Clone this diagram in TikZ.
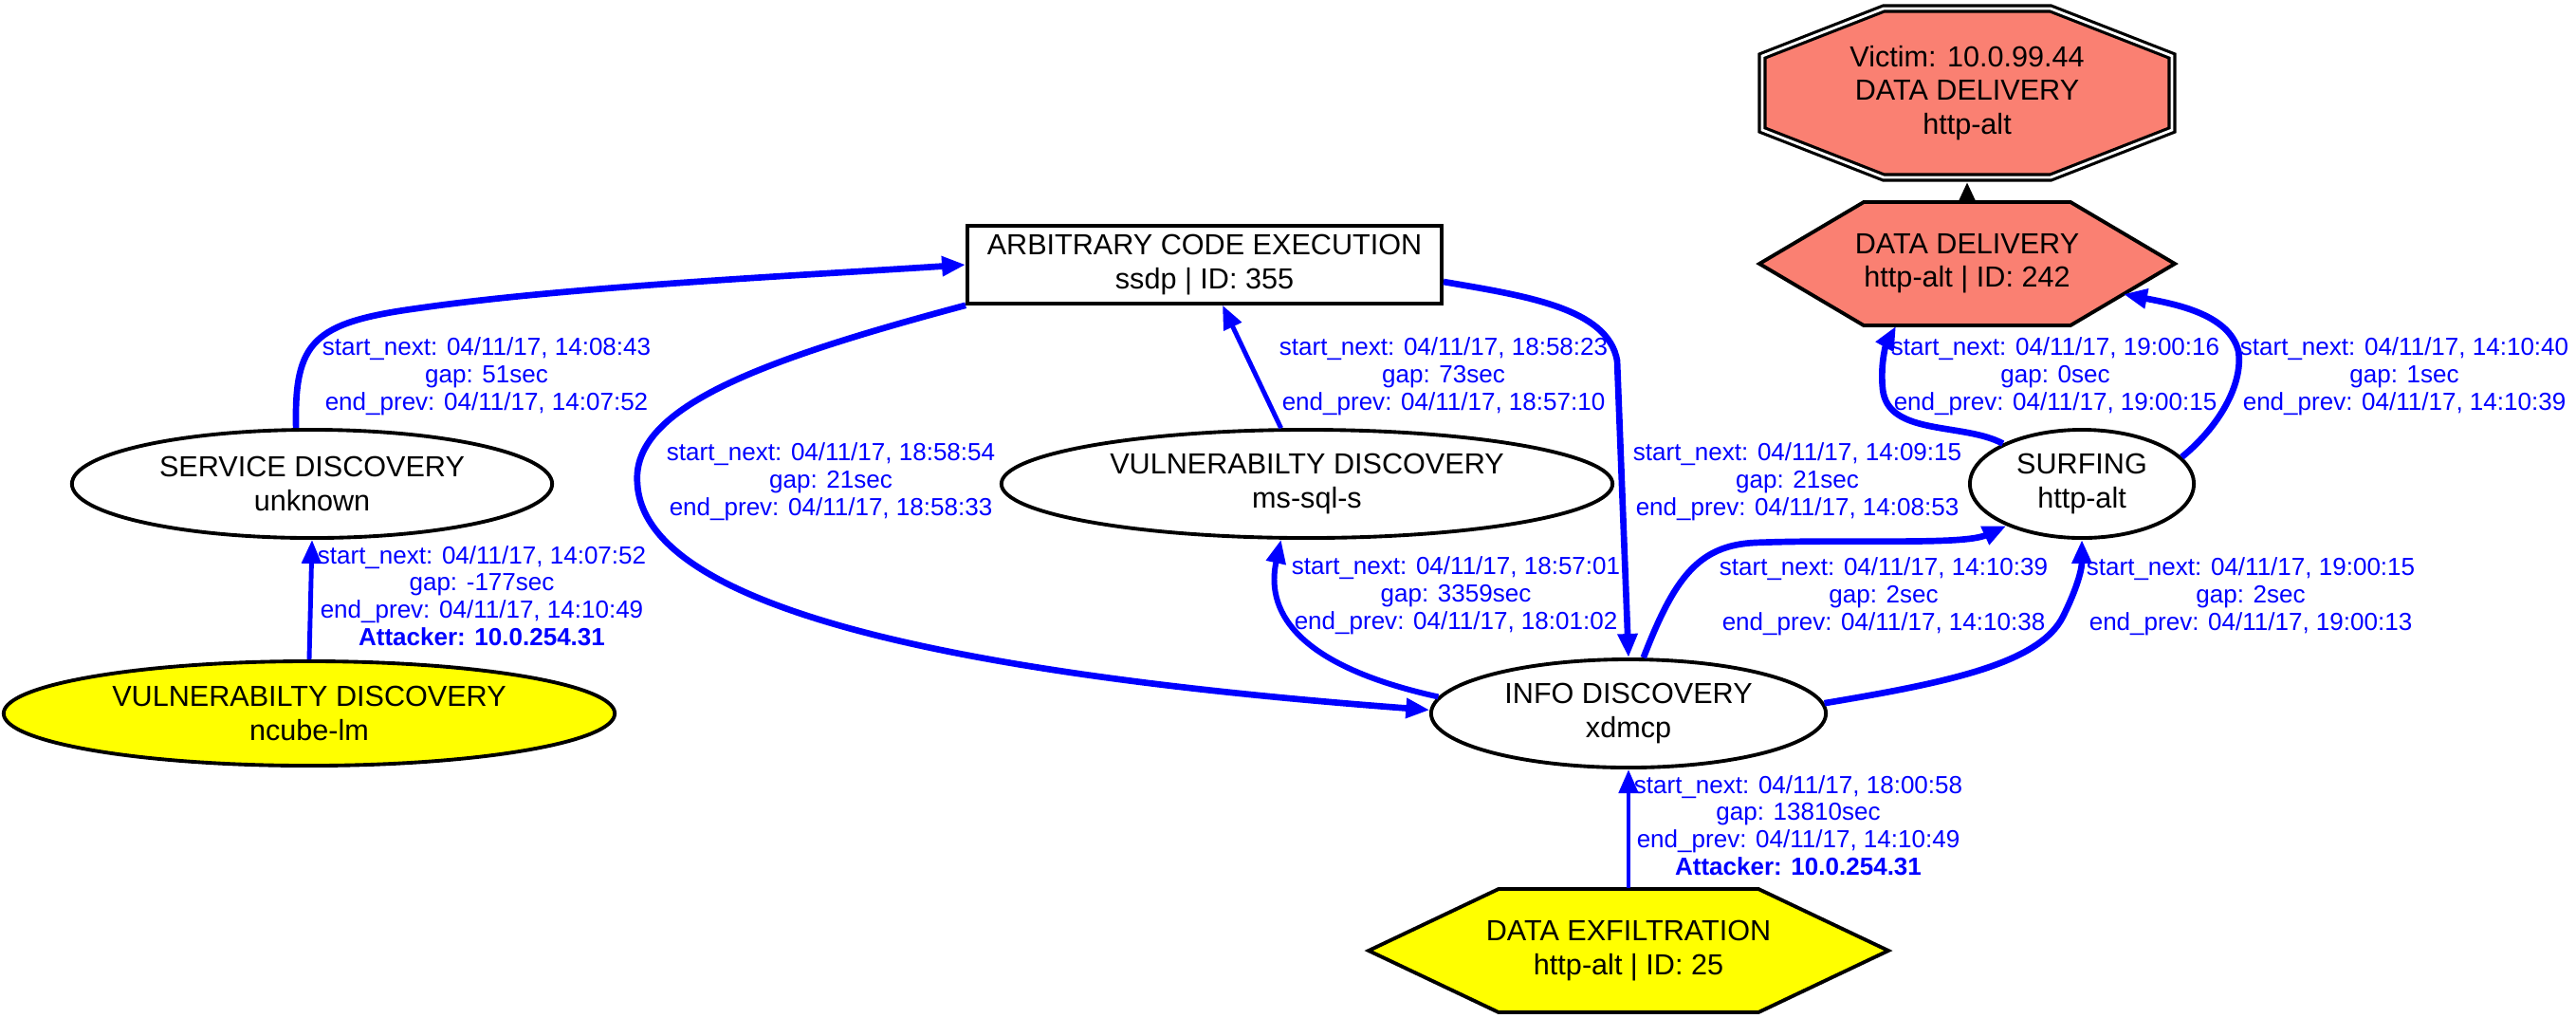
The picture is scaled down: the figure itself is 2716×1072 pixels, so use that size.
\documentclass[tikz,border=0pt]{standalone}
\usepackage{fontspec}
\setmainfont{Liberation Sans}
\usepackage{tikz}
\usetikzlibrary{arrows.meta,positioning,calc,shapes.geometric,backgrounds}
\definecolor{flowblue}{RGB}{0,0,255}
\definecolor{victimred}{HTML}{FA8072}
\definecolor{attacker}{HTML}{FFFF00}
\newcommand{\evfont}{\fontsize{8.7}{10}\selectfont}
\newcommand{\lbfont}{\fontsize{7.4}{8.2}\selectfont}
\tikzset{
  evt/.style={ellipse,draw=black,fill=#1,line width=1.1pt,inner sep=0pt,align=center,
    font=\evfont},
  evt/.default=white,
  boxn/.style={rectangle,draw=black,fill=white,line width=1pt,inner sep=0pt,align=center,
    font=\evfont},
  poly/.style={rectangle,inner sep=0pt,align=center,font=\evfont},
  polyline/.style={draw=black,fill=#1,line width=1.1pt,line join=miter},
  arr/.style={-{Triangle[length=0.25cm,width=0.2cm]},line width=#1,draw=flowblue},
  arr/.default=1.9pt,
  arrk/.style={-{Triangle[length=0.22cm,width=0.19cm]},line width=1.2pt,draw=black},
  lbl/.style={align=center,inner sep=0pt,text=flowblue,font=\lbfont},
}

\begin{document}
\begin{tikzpicture}[x=0.01cm,y=-0.01cm]
  \useasboundingbox (0,0) rectangle (2716,1072);

  \node[poly,minimum width=4.42cm,minimum height=1.87cm] (vic) at (2074,98)
    {Victim: 10.0.99.44\\DATA DELIVERY\\http-alt};
  \node[poly,minimum width=4.38cm,minimum height=1.30cm] (dd) at (2074,278)
    {DATA DELIVERY\\http-alt | ID: 242};
  \node[poly,minimum width=5.49cm,minimum height=1.30cm] (exfil) at (1717,1002)
    {DATA EXFILTRATION\\http-alt | ID: 25};
  \node[boxn,minimum width=5.0cm,minimum height=0.82cm] (ace) at (1270,279)
    {ARBITRARY CODE EXECUTION\\ssdp | ID: 355};
  \node[evt,minimum width=5.06cm,minimum height=1.14cm] (srv) at (329,510)
    {SERVICE DISCOVERY\\unknown};
  \node[evt,minimum width=6.44cm,minimum height=1.14cm] (vul2) at (1378,510)
    {VULNERABILTY DISCOVERY\\ms-sql-s};
  \node[evt,minimum width=2.36cm,minimum height=1.14cm] (surf) at (2195,510)
    {SURFING\\http-alt};
  \node[evt=attacker,minimum width=6.44cm,minimum height=1.10cm] (vul1) at (326,752)
    {VULNERABILTY DISCOVERY\\ncube-lm};
  \node[evt,minimum width=4.16cm,minimum height=1.14cm] (info) at (1717,752)
    {INFO DISCOVERY\\xdmcp};

  \begin{scope}[on background layer]
    \draw[polyline=victimred,double=white,double distance=0.8pt,line width=0.9pt,
      shift={(vic.center)}]
      (-88,-89) -- (88,-89) -- (216,-39) -- (216,39) -- (88,89) -- (-88,89)
      -- (-216,39) -- (-216,-39) -- cycle;
    \draw[polyline=victimred,shift={(dd.center)}]
      (-219,0) -- (-109,-65) -- (109,-65) -- (219,0) -- (109,65) -- (-109,65) -- cycle;
    \draw[polyline=attacker,shift={(exfil.center)}]
      (-274,0) -- (-137,-65) -- (137,-65) -- (274,0) -- (137,65) -- (-137,65) -- cycle;
  \end{scope}

  \draw[arr=1.4pt] (vul1.north) -- (srv.south);
  \draw[arr] (srv.106) .. controls (310,360) and (330,340) .. (440,325)
    .. controls (600,302) and (850,290) .. (ace.west);
  \draw[arr] (ace.south west) .. controls (800,380) and (665,430) .. (672,510)
    .. controls (680,640) and (1000,710) .. (info.179);
  \draw[arr=1.4pt] (vul2.115) -- ($(ace.south)+(19,0)$);
  \draw[arr=1.7pt] (info.175) .. controls (1360,700) and (1335,640) .. (vul2.245);
  \draw[arr] ($(ace.east)+(0,18)$) .. controls (1610,312) and (1695,325) .. (1705,380)
    -- (info.north);
  \draw[arr] (info.75) .. controls (1765,610) and (1790,575) .. (1850,572)
    .. controls (1950,568) and (2070,575) .. (surf.209);
  \draw[arr] (info.3) .. controls (2050,720) and (2150,700) .. (2175,650)
    .. controls (2190,620) and (2195,600) .. (surf.south);
  \draw[arr] (surf.153) .. controls (2070,445) and (1990,460) .. (1985,410)
    .. controls (1982,380) and (1990,360) .. ($(dd.south)+(-75,0)$);
  \draw[arr] (surf.15) .. controls (2345,445) and (2365,400) .. (2360,370)
    .. controls (2350,330) and (2290,320) .. ($(dd.east)+(-55,32)$);
  \draw[arr=1.4pt] (exfil.north) -- (info.south);
  \draw[arrk] (dd.north) -- (vic.south);

  \node[lbl] (l1) at (508,628) {start\_next: 04/11/17, 14:07:52\\gap: -177sec\\
    end\_prev: 04/11/17, 14:10:49\\\textbf{Attacker: 10.0.254.31}};
  \node[lbl] (l2) at (513,397) {start\_next: 04/11/17, 14:08:43\\gap: 51sec\\
    end\_prev: 04/11/17, 14:07:52};
  \node[lbl] (l3) at (876,508) {start\_next: 04/11/17, 18:58:54\\gap: 21sec\\
    end\_prev: 04/11/17, 18:58:33};
  \node[lbl] (l4) at (1522,397) {start\_next: 04/11/17, 18:58:23\\gap: 73sec\\
    end\_prev: 04/11/17, 18:57:10};
  \node[lbl] (l5) at (1535,628) {start\_next: 04/11/17, 18:57:01\\gap: 3359sec\\
    end\_prev: 04/11/17, 18:01:02};
  \node[lbl] (l6) at (1895,508) {start\_next: 04/11/17, 14:09:15\\gap: 21sec\\
    end\_prev: 04/11/17, 14:08:53};
  \node[lbl] (l7) at (1986,629) {start\_next: 04/11/17, 14:10:39\\gap: 2sec\\
    end\_prev: 04/11/17, 14:10:38};
  \node[lbl] (l8) at (2373,629) {start\_next: 04/11/17, 19:00:15\\gap: 2sec\\
    end\_prev: 04/11/17, 19:00:13};
  \node[lbl] (l9) at (2167,397) {start\_next: 04/11/17, 19:00:16\\gap: 0sec\\
    end\_prev: 04/11/17, 19:00:15};
  \node[lbl] (l10) at (2535,397) {start\_next: 04/11/17, 14:10:40\\gap: 1sec\\
    end\_prev: 04/11/17, 14:10:39};
  \node[lbl] (l11) at (1896,870) {start\_next: 04/11/17, 18:00:58\\gap: 13810sec\\
    end\_prev: 04/11/17, 14:10:49\\\textbf{Attacker: 10.0.254.31}};
\end{tikzpicture}
\end{document}
